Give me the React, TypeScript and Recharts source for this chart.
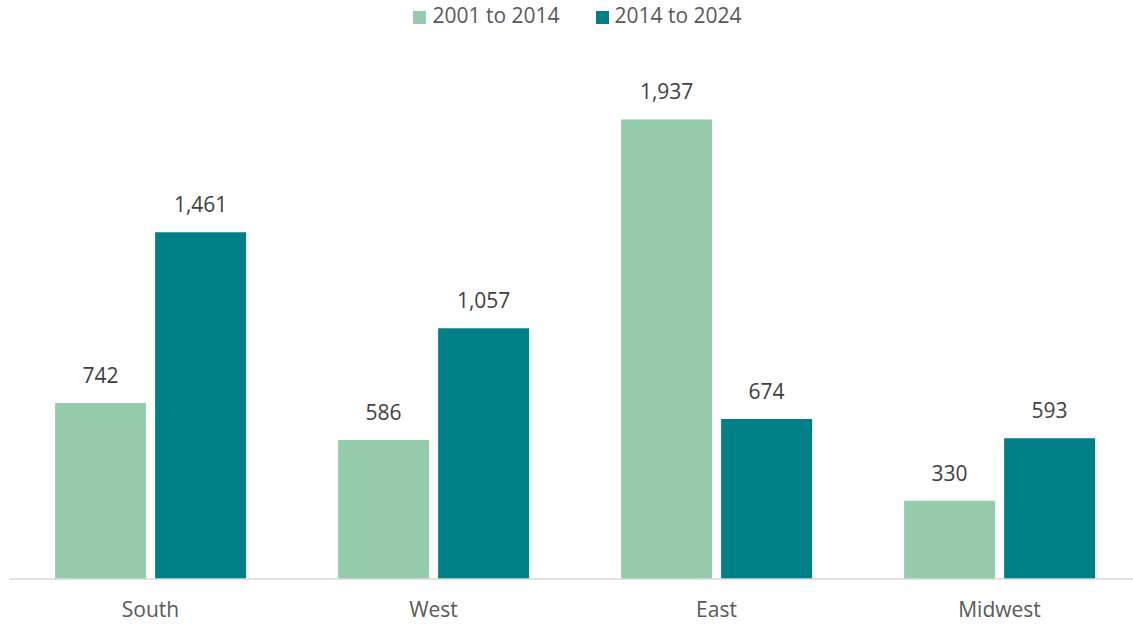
import React from "react";
import { BarChart, Bar, XAxis, YAxis, Legend, LabelList } from "recharts";

const categories = ["South", "West", "East", "Midwest"];
const series2001to2014 = [742, 586, 1937, 330];
const series2014to2024 = [1461, 1057, 674, 593];
const seriesNames = ["2001 to 2014", "2014 to 2024"];

const data = categories.map((c, i) => ({
  region: c,
  a: series2001to2014[i],
  b: series2014to2024[i],
}));

const LIGHT = "#95CCAB";
const DARK = "#007F87";
const FONT = "'Open Sans', Lato, sans-serif";

const fmt = (v: any) => Number(v).toLocaleString("en-US");

export default function App() {
  return (
    <div style={{ position: "absolute", left: 0, top: 0, fontFamily: FONT }}>
      <BarChart
        width={1133}
        height={624}
        data={data}
        margin={{ top: 29, right: -8, bottom: 0, left: 9 }}
        barCategoryGap="16.3%"
        barGap={9}
      >
        <Legend
          verticalAlign="top"
          align="center"
          iconType="square"
          iconSize={13}
          wrapperStyle={{ top: 1, left: 29, width: 1133, fontSize: 21, color: "#595959" }}
          formatter={(v: any) => (
            <span style={{ color: "#595959", marginRight: 26, marginLeft: 2 }}>{v}</span>
          )}
        />
        <XAxis
          dataKey="region"
          tickLine={false}
          axisLine={{ stroke: "#D9D9D9", strokeWidth: 1.5 }}
          tick={{ fill: "#595959", fontSize: 21, fontFamily: FONT }}
          tickMargin={17}
          height={45}
        />
        <YAxis hide domain={[0, 2200]} />
        <Bar dataKey="a" name={seriesNames[0]} fill={LIGHT} isAnimationActive={false}>
          <LabelList dataKey="a" position="top" offset={20} formatter={fmt} fill="#404040" fontSize={21} fontFamily={FONT} />
        </Bar>
        <Bar dataKey="b" name={seriesNames[1]} fill={DARK} isAnimationActive={false}>
          <LabelList dataKey="b" position="top" offset={20} formatter={fmt} fill="#404040" fontSize={21} fontFamily={FONT} />
        </Bar>
      </BarChart>
    </div>
  );
}
